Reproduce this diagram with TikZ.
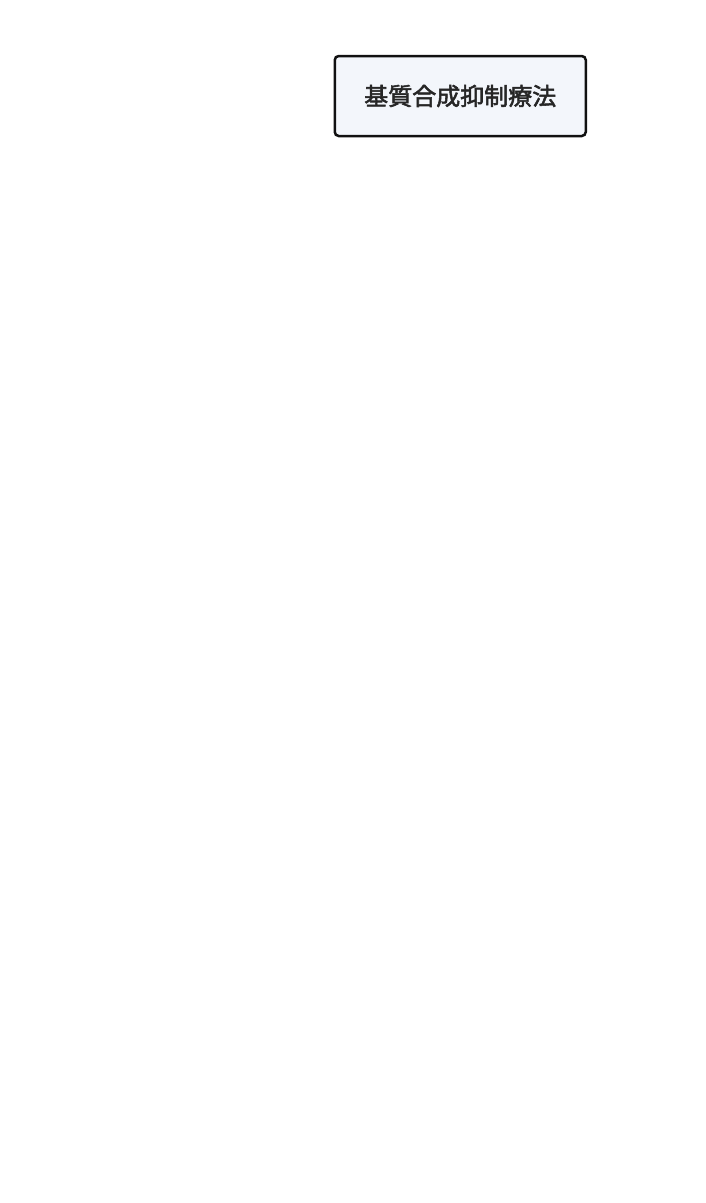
\documentclass[tikz,border=0pt]{standalone}
\usepackage{fontspec}
\newfontfamily\jpfont{Noto Sans CJK JP}[UprightFeatures={FakeBold=2.2}]
\usetikzlibrary{arrows}
\definecolor{boxfill}{HTML}{F3F6FB}
\definecolor{boxline}{HTML}{111111}
\tikzset{
  {box/.style}={rectangle, rounded corners=4pt, draw=boxline,
                line width=2.5pt, fill=boxfill,
                minimum width=251pt, minimum height=80pt,
                text centered, inner sep=0pt,
                font=\jpfont\fontsize{24}{28}\selectfont,
                text=black!85},
}
\begin{document}
\begin{tikzpicture}[x=1pt,y=1pt]
    \useasboundingbox (0,0) rectangle (705,-1203);
    \node[box] (therapy) at (460.25,-96) {基質合成抑制療法};
\end{tikzpicture}
\end{document}
